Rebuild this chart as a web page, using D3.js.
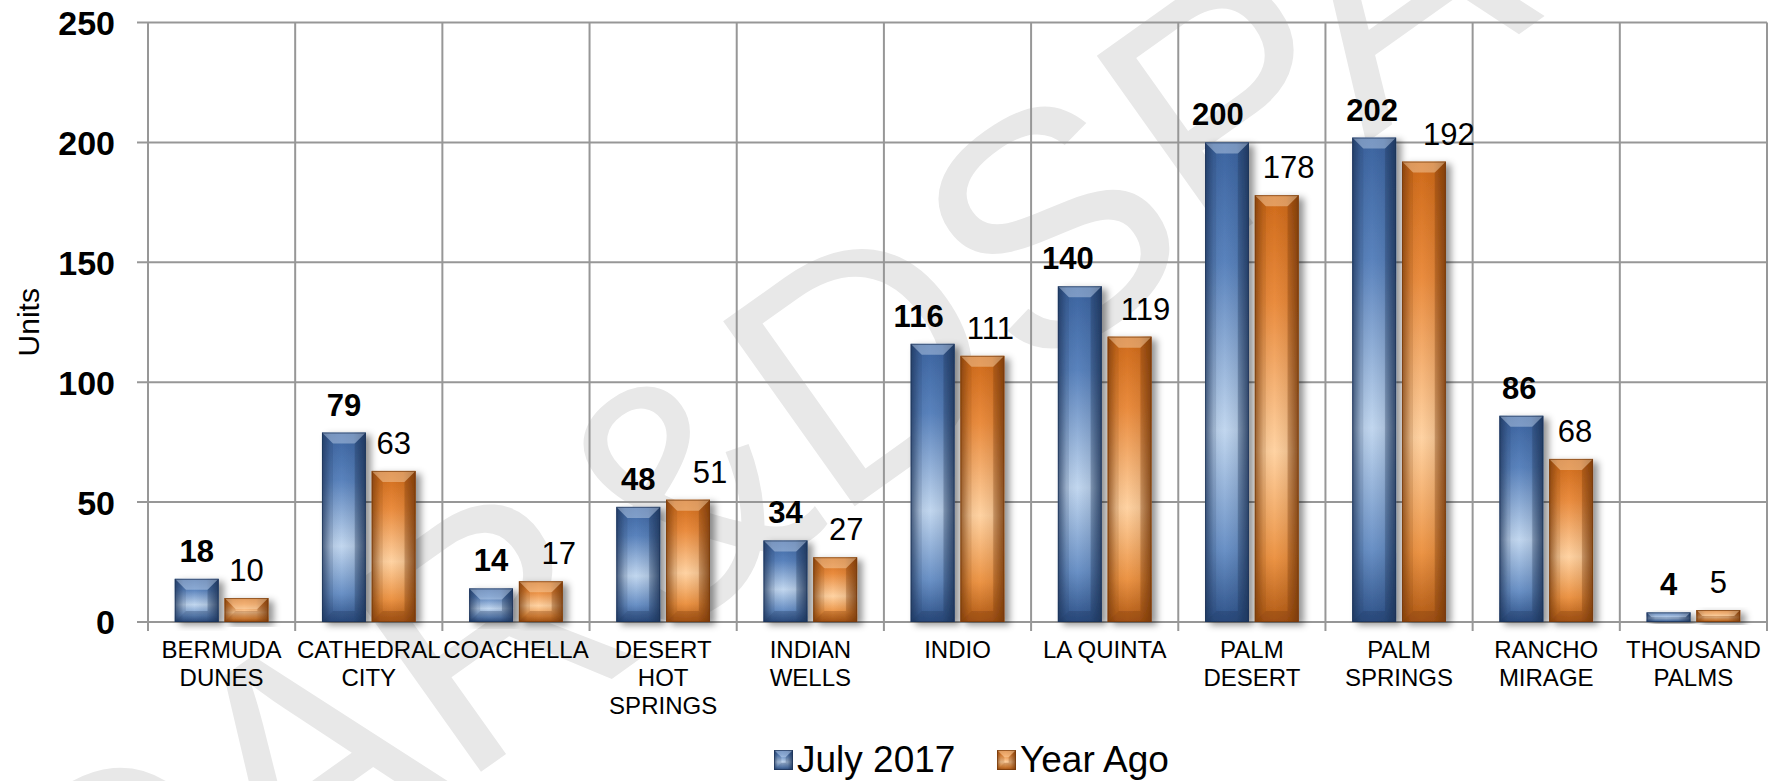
<!DOCTYPE html>
<html>
<head>
<meta charset="utf-8">
<script src="https://cdn.jsdelivr.net/npm/d3@7"></script>
<style>
  html, body { margin: 0; padding: 0; background: #ffffff; }
  svg { display: block; font-family: "Liberation Sans", Arial, sans-serif; }
</style>
</head>
<body>
<svg id="chart" width="1769" height="781"></svg>
<script>
// ---- data ----
const categories = [
  "BERMUDA\nDUNES", "CATHEDRAL\nCITY", "COACHELLA", "DESERT\nHOT\nSPRINGS",
  "INDIAN\nWELLS", "INDIO", "LA QUINTA", "PALM\nDESERT", "PALM\nSPRINGS",
  "RANCHO\nMIRAGE", "THOUSAND\nPALMS"
];
const july2017 = [18, 79, 14, 48, 34, 116, 140, 200, 202, 86, 4];
const yearAgo  = [10, 63, 17, 51, 27, 111, 119, 178, 192, 68, 5];
const seriesNames = ["July 2017", "Year Ago"];
const yTicks = [0, 50, 100, 150, 200, 250];
const yTitle = "Units";
const watermarkText = "CAR&DSPAR";

// ---- layout ----
const plot = { left: 148, right: 1767, top: 22.5, bottom: 622 };
// small horizontal nudges for labels that sit beside their neighbours
const julyLabelShift = [0, 0, 0, 0, 0, -14, -12, -9, -2, -2, 0];
const agoLabelShift  = [0, 0, 18, 22, 11, 8, 16, 12, 25, 4, 0];

const svg = d3.select("#chart");
const defs = svg.append("defs");

const x = d3.scaleBand().domain(d3.range(categories.length)).range([plot.left, plot.right]).padding(0);
const y = d3.scaleLinear().domain([0, 250]).range([plot.bottom, plot.top]);

const bw = x.bandwidth();
const barW = bw * 0.298;
const barGap = bw * 0.04;
const groupOffset = (bw - 2 * barW - barGap) / 2;

// ---- gradients & shadow ----
const palettes = [
  { id: "blue", stops: ["#3c64a0", "#5a83bd", "#c2d7ef", "#6a91c6", "#2e5289"], light: "#d6e6f7", dark: "#1b3155" },
  { id: "orange", stops: ["#cf6a1a", "#ea8c3e", "#ffd3a3", "#ec9445", "#b15a15"], light: "#ffe6c4", dark: "#733709" }
];
palettes.forEach(p => {
  const vg = defs.append("linearGradient").attr("id", "body-" + p.id)
    .attr("x1", 0).attr("x2", 0).attr("y1", 0).attr("y2", 1);
  [0, 0.25, 0.6, 0.85, 1].forEach((o, k) =>
    vg.append("stop").attr("offset", o).attr("stop-color", p.stops[k]));

  const hg = defs.append("linearGradient").attr("id", "edge-" + p.id)
    .attr("x1", 0).attr("x2", 1).attr("y1", 0).attr("y2", 0);
  hg.append("stop").attr("offset", "0%").attr("stop-color", p.dark).attr("stop-opacity", 0.7);
  hg.append("stop").attr("offset", "20%").attr("stop-color", p.dark).attr("stop-opacity", 0.1);
  hg.append("stop").attr("offset", "45%").attr("stop-color", p.dark).attr("stop-opacity", 0);
  hg.append("stop").attr("offset", "72%").attr("stop-color", p.dark).attr("stop-opacity", 0.12);
  hg.append("stop").attr("offset", "100%").attr("stop-color", p.dark).attr("stop-opacity", 0.8);
});

const shadow = defs.append("filter").attr("id", "barShadow")
  .attr("x", "-20%").attr("y", "-20%").attr("width", "160%").attr("height", "140%");
shadow.append("feDropShadow").attr("dx", 5).attr("dy", 3).attr("stdDeviation", 3.5)
  .attr("flood-color", "#000").attr("flood-opacity", 0.42);

// ---- watermark ----
svg.append("text")
  .attr("transform", "translate(846,372) rotate(-35.4)")
  .attr("text-anchor", "middle")
  .attr("dominant-baseline", "central")
  .attr("font-size", 330)
  .attr("fill", "#e8e8e8")
  .text(watermarkText);

// ---- grid ----
const grid = svg.append("g").attr("class", "grid");
const gridColor = "#979797";
grid.selectAll("line.h").data(yTicks).join("line")
  .attr("class", "h")
  .attr("x1", plot.left - 11).attr("x2", plot.right)
  .attr("y1", d => y(d)).attr("y2", d => y(d))
  .attr("stroke", gridColor).attr("stroke-width", 2);

const edges = d3.range(categories.length + 1).map(i => i < categories.length ? x(i) : x.range()[1]);
grid.selectAll("line.v").data(edges).join("line")
  .attr("class", "v")
  .attr("x1", d => d).attr("x2", d => d)
  .attr("y1", plot.top).attr("y2", plot.bottom + 9)
  .attr("stroke", gridColor).attr("stroke-width", 2);

// ---- y axis labels ----
const yAxis = d3.axisLeft(y).tickValues(yTicks).tickSize(0).tickPadding(33);
const yg = svg.append("g").attr("transform", `translate(${plot.left},0)`).call(yAxis);
yg.select(".domain").remove();
yg.selectAll("text")
  .attr("font-family", "'Liberation Sans', Arial, sans-serif")
  .attr("font-size", 34).attr("font-weight", "bold").attr("fill", "#000")
  .attr("dy", "0.35em");

svg.append("text")
  .attr("transform", `translate(39,${(plot.top + plot.bottom) / 2}) rotate(-90)`)
  .attr("text-anchor", "middle")
  .attr("font-size", 30)
  .attr("fill", "#000")
  .text(yTitle);

// ---- bars ----
function bevelBar(g, x0, y0, w, h, pal, withShadow) {
  const bar = g.append("g");
  if (withShadow) bar.attr("filter", "url(#barShadow)");
  bar.append("rect").attr("x", x0).attr("y", y0).attr("width", w).attr("height", h)
    .attr("fill", `url(#body-${pal.id})`);
  bar.append("rect").attr("x", x0).attr("y", y0).attr("width", w).attr("height", h)
    .attr("fill", `url(#edge-${pal.id})`);
  const b = Math.min(11, w / 2.6, h / 2);
  const pts = a => a.map(p => p.join(",")).join(" ");
  // bevel faces: top, left, right, bottom
  bar.append("polygon")
    .attr("points", pts([[x0, y0], [x0 + w, y0], [x0 + w - b, y0 + b], [x0 + b, y0 + b]]))
    .attr("fill", pal.light).attr("fill-opacity", 0.4);
  bar.append("polygon")
    .attr("points", pts([[x0, y0], [x0 + b, y0 + b], [x0 + b, y0 + h - b], [x0, y0 + h]]))
    .attr("fill", pal.dark).attr("fill-opacity", 0.14);
  bar.append("polygon")
    .attr("points", pts([[x0 + w, y0], [x0 + w, y0 + h], [x0 + w - b, y0 + h - b], [x0 + w - b, y0 + b]]))
    .attr("fill", pal.dark).attr("fill-opacity", 0.26);
  bar.append("polygon")
    .attr("points", pts([[x0, y0 + h], [x0 + b, y0 + h - b], [x0 + w - b, y0 + h - b], [x0 + w, y0 + h]]))
    .attr("fill", pal.dark).attr("fill-opacity", 0.28);
  bar.append("rect").attr("x", x0 + 0.5).attr("y", y0 + 0.5).attr("width", Math.max(0, w - 1)).attr("height", Math.max(0, h - 1))
    .attr("fill", "none").attr("stroke", pal.dark).attr("stroke-opacity", 0.65).attr("stroke-width", 1);
}

const barsG = svg.append("g").attr("class", "bars");
const seriesData = [july2017, yearAgo];
seriesData.forEach((vals, si) => {
  vals.forEach((v, i) => {
    const x0 = x(i) + groupOffset + si * (barW + barGap);
    bevelBar(barsG, x0, y(v), barW, y(0) - y(v), palettes[si], true);
  });
});

// ---- value labels ----
const labelG = svg.append("g").attr("class", "labels");
seriesData.forEach((vals, si) => {
  const shifts = si === 0 ? julyLabelShift : agoLabelShift;
  labelG.selectAll(null).data(vals).join("text")
    .attr("x", (v, i) => x(i) + groupOffset + si * (barW + barGap) + barW / 2 + shifts[i])
    .attr("y", v => y(v) - 17)
    .attr("text-anchor", "middle")
    .attr("font-size", 31)
    .attr("font-weight", si === 0 ? "bold" : "normal")
    .attr("fill", "#000")
    .text(v => v);
});

// ---- category labels ----
const catG = svg.append("g").attr("class", "categories");
categories.forEach((c, i) => {
  const t = catG.append("text")
    .attr("x", x(i) + bw / 2)
    .attr("y", 658)
    .attr("text-anchor", "middle")
    .attr("font-size", 24)
    .attr("fill", "#000");
  c.split("\n").forEach((line, li) => {
    t.append("tspan").attr("x", x(i) + bw / 2).attr("dy", li === 0 ? 0 : 28).text(line);
  });
});

// ---- legend ----
const legend = svg.append("g").attr("class", "legend");
const legendItems = [
  { name: seriesNames[0], pal: palettes[0], x: 774 },
  { name: seriesNames[1], pal: palettes[1], x: 997 }
];
legendItems.forEach(it => {
  bevelBar(legend, it.x, 750, 19, 20, it.pal, false);
  legend.append("text")
    .attr("x", it.x + 23).attr("y", 772)
    .attr("font-size", 37)
    .attr("fill", "#000")
    .text(it.name);
});
</script>
</body>
</html>
